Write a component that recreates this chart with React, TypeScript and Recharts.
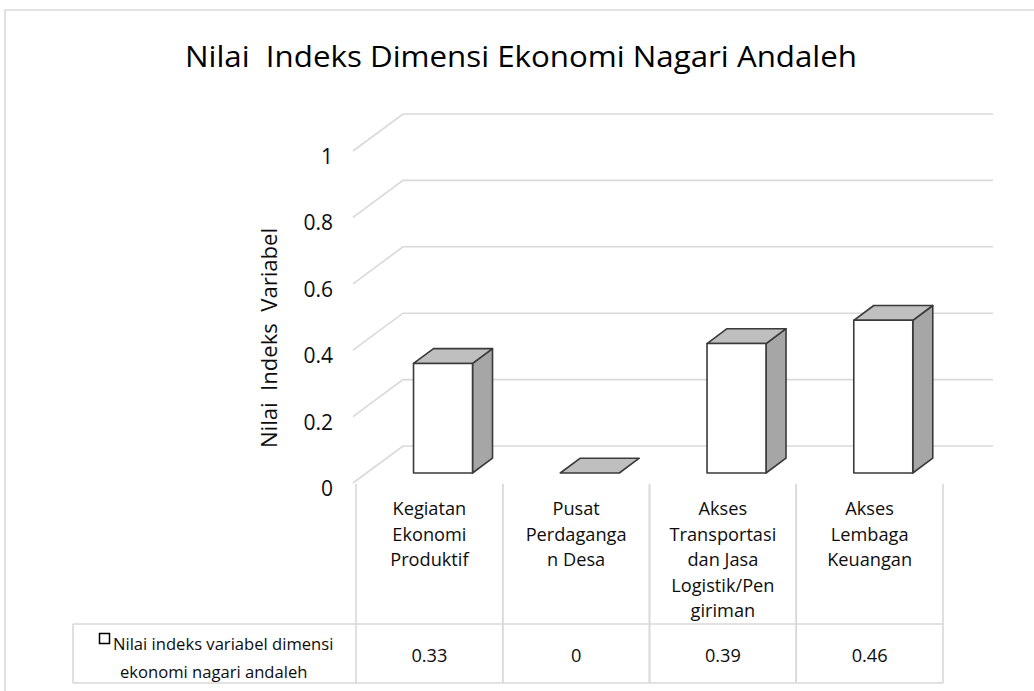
import React from "react";
import { BarChart, Bar, XAxis, YAxis, CartesianGrid } from "recharts";

const categories = [
  "Kegiatan Ekonomi Produktif",
  "Pusat Perdagangan Desa",
  "Akses Transportasi dan Jasa Logistik/Pengiriman",
  "Akses Lembaga Keuangan",
];
const categoryLabelLines = [
  ["Kegiatan", "Ekonomi", "Produktif"],
  ["Pusat", "Perdaganga", "n Desa"],
  ["Akses", "Transportasi", "dan Jasa", "Logistik/Pen", "giriman"],
  ["Akses", "Lembaga", "Keuangan"],
];
const values = [0.33, 0, 0.39, 0.46];
const valueLabels = ["0.33", "0", "0.39", "0.46"];
const yTicks = [0, 0.2, 0.4, 0.6, 0.8, 1];
const yTickLabels = ["0", "0.2", "0.4", "0.6", "0.8", "1"];
const seriesName = "Nilai indeks variabel dimensi ekonomi nagari andaleh";
const seriesNameLines = ["Nilai indeks variabel dimensi", "ekonomi nagari andaleh"];
const chartTitle = "Nilai  Indeks Dimensi Ekonomi Nagari Andaleh";
const yAxisTitle = "Nilai  Indeks  Variabel";

const data = categories.map((c, i) => ({ name: c, value: values[i] }));

const FONT = "'Open Sans', 'DejaVu Sans', sans-serif";
const GRID = "#d9d9d9";
const TEXT = "#0d0d0d";
const DEPTH_X = 50;
const DEPTH_Y = 37;
const BAR_FRONT = 0.27;
const BAR_DEPTH = 0.4;
const EDGE = "#3a3a3a";

const Bar3D = (props: any) => {
  const { x, y, width, height } = props;
  const fx = x + BAR_FRONT * DEPTH_X;
  const top = y - BAR_FRONT * DEPTH_Y;
  const bottom = y + height - BAR_FRONT * DEPTH_Y;
  const dx = BAR_DEPTH * DEPTH_X;
  const dy = BAR_DEPTH * DEPTH_Y;
  const r = fx + width;
  return (
    <g>
      {height > 0.5 && (
        <polygon
          points={`${r},${top} ${r + dx},${top - dy} ${r + dx},${bottom - dy} ${r},${bottom}`}
          fill="#a6a6a6"
          stroke={EDGE}
          strokeWidth={1.6}
          strokeLinejoin="round"
        />
      )}
      <polygon
        points={`${fx},${top} ${fx + dx},${top - dy} ${r + dx},${top - dy} ${r},${top}`}
        fill="#bfbfbf"
        stroke={EDGE}
        strokeWidth={1.6}
        strokeLinejoin="round"
      />
      {height > 0.5 && (
        <rect
          x={fx}
          y={top}
          width={width}
          height={bottom - top}
          fill="#ffffff"
          stroke={EDGE}
          strokeWidth={1.6}
          strokeLinejoin="round"
        />
      )}
    </g>
  );
};

const gridLine = (props: any) => {
  const { x1, x2, y1, key, index } = props;
  const d = `M ${x1 - 3} ${y1} L ${x1 + DEPTH_X - 3} ${y1 - DEPTH_Y} L ${x2 + DEPTH_X} ${y1 - DEPTH_Y}`;
  return <path key={key ?? `g-${index}-${y1}`} d={d} stroke={GRID} strokeWidth={1.6} fill="none" />;
};

const YTick = (props: any) => {
  const { x, y, payload } = props;
  const idx = yTicks.indexOf(payload.value);
  return (
    <text
      x={x - 23}
      y={y + 5}
      textAnchor="end"
      dominantBaseline="central"
      fontFamily={FONT}
      fontSize={21}
      fill={TEXT}
    >
      {idx >= 0 ? yTickLabels[idx] : String(payload.value)}
    </text>
  );
};

const XTick = (props: any) => {
  const { x, y, payload } = props;
  const i = payload.index ?? categories.indexOf(payload.value);
  const half = payload.offset ?? 73.4;
  const lines = categoryLabelLines[i] || [];
  const left = x - half;
  const right = x + half;
  return (
    <g>
      <line x1={left} y1={y + 1} x2={left} y2={y + 200} stroke={GRID} strokeWidth={1.6} />
      <line x1={right} y1={y + 1} x2={right} y2={y + 200} stroke={GRID} strokeWidth={1.6} />
      <line x1={left} y1={y + 141} x2={right} y2={y + 141} stroke={GRID} strokeWidth={1.6} />
      <line x1={left} y1={y + 200} x2={right} y2={y + 200} stroke={GRID} strokeWidth={1.6} />
      {lines.map((ln, k) => (
        <text
          key={k}
          x={x}
          y={y + 25 + k * 25.6}
          textAnchor="middle"
          dominantBaseline="central"
          fontFamily={FONT}
          fontSize={18.2}
          fill={TEXT}
          style={{ whiteSpace: "pre" }}
        >
          {ln}
        </text>
      ))}
      <text
        x={x}
        y={y + 172}
        textAnchor="middle"
        dominantBaseline="central"
        fontFamily={FONT}
        fontSize={18.2}
        fill={TEXT}
      >
        {valueLabels[i]}
      </text>
    </g>
  );
};

export default function App() {
  return (
    <div style={{ position: "absolute", left: 0, top: 0, width: 1034, height: 691, background: "#fff", overflow: "hidden" }}>
      <BarChart
        width={1034}
        height={691}
        data={data}
        margin={{ top: 151, right: 91, bottom: 8, left: 296 }}
        barCategoryGap="30%"
      >
        <CartesianGrid vertical={false} horizontal={gridLine as any} stroke={GRID} />
        <YAxis
          domain={[0, 1]}
          ticks={yTicks}
          width={60}
          axisLine={false}
          tickLine={false}
          tickSize={0}
          tickMargin={0}
          tick={<YTick />}
        />
        <XAxis
          dataKey="name"
          height={200}
          axisLine={false}
          tickLine={false}
          tickSize={0}
          tickMargin={0}
          interval={0}
          tick={<XTick />}
        />
        <Bar dataKey="value" name={seriesName} isAnimationActive={false} shape={<Bar3D />} />
      </BarChart>
      <svg
        width={1034}
        height={691}
        style={{ position: "absolute", left: 0, top: 0, pointerEvents: "none" }}
      >
        <path d="M 5 691 L 5 10 L 1034 10" stroke={GRID} strokeWidth={1.6} fill="none" />
        <text
          x={521}
          y={67}
          textAnchor="middle"
          fontFamily={FONT}
          fontSize={30}
          fill="#000"
          textLength={672}
          lengthAdjust="spacingAndGlyphs"
          style={{ whiteSpace: "pre" }}
        >
          {chartTitle}
        </text>
        <text
          x={268}
          y={338}
          transform="rotate(-90 268 338)"
          textAnchor="middle"
          dominantBaseline="central"
          fontFamily={FONT}
          fontSize={21.5}
          fill={TEXT}
          textLength={220}
          lengthAdjust="spacingAndGlyphs"
          style={{ whiteSpace: "pre" }}
        >
          {yAxisTitle}
        </text>
        <path d="M 73 624 L 356 624 M 73 683 L 356 683 M 73 624 L 73 683" stroke={GRID} strokeWidth={1.6} fill="none" />
        <rect x={99.5} y={633.5} width={10} height={10} fill="#fff" stroke="#000" strokeWidth={1.5} />
        <text x={113} y={643} dominantBaseline="central" fontFamily={FONT} fontSize={16.6} fill={TEXT}>
          {seriesNameLines[0]}
        </text>
        <text x={120} y={671} dominantBaseline="central" fontFamily={FONT} fontSize={16.6} fill={TEXT}>
          {seriesNameLines[1]}
        </text>
      </svg>
    </div>
  );
}
